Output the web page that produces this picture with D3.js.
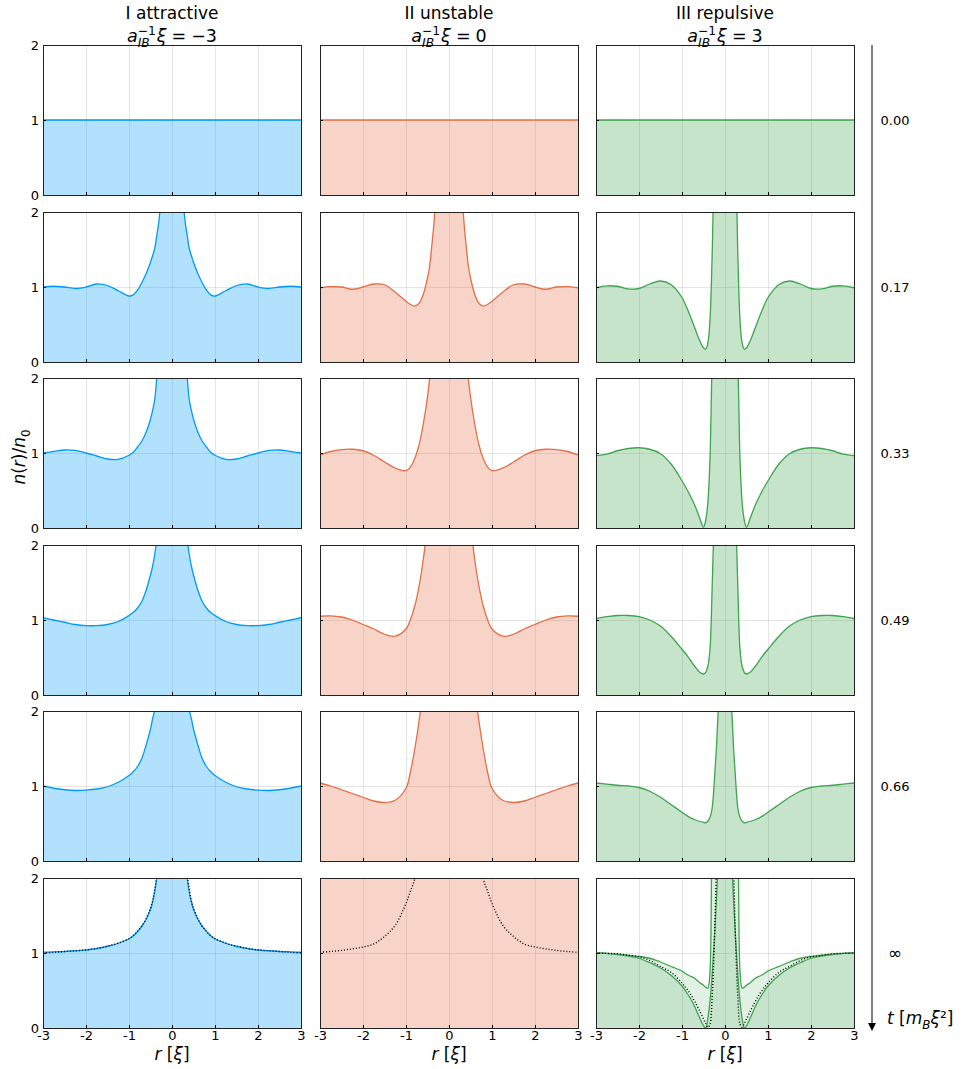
<!DOCTYPE html>
<html>
<head>
<meta charset="utf-8">
<script src="https://cdn.jsdelivr.net/npm/d3@7"></script>
<style>
  body { margin: 0; background: #fff; }
  svg { font-family: "DejaVu Sans", sans-serif; }
</style>
</head>
<body>
<div id="chart"></div>
<script>
// r grid shared by every curve (r in units of xi)
const rGrid = [-3, -2.75, -2.5, -2.25, -2, -1.75, -1.5, -1.25, -1, -0.9, -0.8, -0.7, -0.6, -0.5, -0.45, -0.4, -0.35, -0.3, -0.25, -0.2, -0.15, -0.1, -0.05,
  0,
  0.05, 0.1, 0.15, 0.2, 0.25, 0.3, 0.35, 0.4, 0.45, 0.5, 0.6, 0.7, 0.8, 0.9, 1, 1.25, 1.5, 1.75, 2, 2.25, 2.5, 2.75, 3];

const xTicks = [-3, -2, -1, 0, 1, 2, 3];
const yTicks = [0, 1, 2];
const timeLabels = ["0.00", "0.17", "0.33", "0.49", "0.66", "∞"];
const colTitles = ["I attractive", "II unstable", "III repulsive"];
const couplings = ["−3", "0", "3"];
const lineColors = ["#009AFA", "#E36F47", "#3EA44E"];

// t = 0 : uniform density
const flat = [1, 1, 1, 1, 1, 1, 1, 1, 1, 1, 1, 1, 1, 1, 1, 1, 1, 1, 1, 1, 1, 1, 1,
  1,
  1, 1, 1, 1, 1, 1, 1, 1, 1, 1, 1, 1, 1, 1, 1, 1, 1, 1, 1, 1, 1, 1, 1];

// I attractive
const nAttractive = [
  flat,
  [1.00, 1.01, 1.00, 0.98, 1.00, 1.04, 1.02, 0.95, 0.88, 0.895, 0.96, 1.06, 1.18, 1.33, 1.42, 1.52, 1.70, 1.90, 2.30, 2.80, 3, 3, 3,
   3,
   3, 3, 3, 2.80, 2.30, 1.90, 1.70, 1.52, 1.42, 1.33, 1.18, 1.06, 0.96, 0.895, 0.88, 0.95, 1.02, 1.04, 1.00, 0.98, 1.00, 1.01, 1.00],
  [1.00, 1.02, 1.04, 1.035, 1.00, 0.96, 0.92, 0.915, 0.97, 1.01, 1.08, 1.16, 1.28, 1.45, 1.57, 1.72, 2.05, 2.50, 3, 3, 3, 3, 3,
   3,
   3, 3, 3, 3, 3, 2.50, 2.05, 1.72, 1.57, 1.45, 1.28, 1.16, 1.08, 1.01, 0.97, 0.915, 0.92, 0.96, 1.00, 1.035, 1.04, 1.02, 1.00],
  [1.03, 1.00, 0.97, 0.94, 0.925, 0.925, 0.94, 0.98, 1.06, 1.10, 1.16, 1.25, 1.40, 1.60, 1.72, 1.88, 2.10, 2.50, 3, 3, 3, 3, 3,
   3,
   3, 3, 3, 3, 3, 2.50, 2.10, 1.88, 1.72, 1.60, 1.40, 1.25, 1.16, 1.10, 1.06, 0.98, 0.94, 0.925, 0.925, 0.94, 0.97, 1.00, 1.03],
  [1.00, 0.97, 0.95, 0.94, 0.945, 0.96, 0.99, 1.05, 1.14, 1.19, 1.26, 1.37, 1.55, 1.76, 1.90, 2.02, 2.30, 2.70, 3, 3, 3, 3, 3,
   3,
   3, 3, 3, 3, 3, 2.70, 2.30, 2.02, 1.90, 1.76, 1.55, 1.37, 1.26, 1.19, 1.14, 1.05, 0.99, 0.96, 0.945, 0.94, 0.95, 0.97, 1.00],
  [1.01, 1.015, 1.02, 1.03, 1.04, 1.06, 1.09, 1.13, 1.19, 1.23, 1.29, 1.36, 1.45, 1.58, 1.68, 1.82, 2.02, 2.30, 2.70, 3, 3, 3, 3,
   3,
   3, 3, 3, 3, 2.70, 2.30, 2.02, 1.82, 1.68, 1.58, 1.45, 1.36, 1.29, 1.23, 1.19, 1.13, 1.09, 1.06, 1.04, 1.03, 1.02, 1.015, 1.01]
];
const nAttractiveLimit = [1.00, 1.01, 1.02, 1.03, 1.04, 1.06, 1.09, 1.13, 1.19, 1.23, 1.29, 1.36, 1.46, 1.60, 1.70, 1.85, 2.05, 2.35, 2.80, 3, 3, 3, 3,
  3,
  3, 3, 3, 3, 2.80, 2.35, 2.05, 1.85, 1.70, 1.60, 1.46, 1.36, 1.29, 1.23, 1.19, 1.13, 1.09, 1.06, 1.04, 1.03, 1.02, 1.01, 1.00];

// II unstable
const nUnstable = [
  flat,
  [0.99, 1.005, 1.00, 0.97, 1.00, 1.04, 1.03, 0.93, 0.81, 0.77, 0.745, 0.78, 0.90, 1.12, 1.28, 1.55, 1.85, 2.30, 2.80, 3, 3, 3, 3,
   3,
   3, 3, 3, 3, 2.80, 2.30, 1.85, 1.55, 1.28, 1.12, 0.90, 0.78, 0.745, 0.77, 0.81, 0.93, 1.03, 1.04, 1.00, 0.97, 1.00, 1.005, 0.99],
  [0.975, 1.02, 1.045, 1.05, 1.03, 0.97, 0.88, 0.80, 0.765, 0.81, 0.92, 1.10, 1.38, 1.75, 2.00, 2.40, 3, 3, 3, 3, 3, 3, 3,
   3,
   3, 3, 3, 3, 3, 3, 3, 2.40, 2.00, 1.75, 1.38, 1.10, 0.92, 0.81, 0.765, 0.80, 0.88, 0.97, 1.03, 1.05, 1.045, 1.02, 0.975],
  [1.05, 1.055, 1.04, 1.00, 0.94, 0.88, 0.81, 0.785, 0.88, 1.00, 1.18, 1.44, 1.80, 2.30, 2.70, 3, 3, 3, 3, 3, 3, 3, 3,
   3,
   3, 3, 3, 3, 3, 3, 3, 3, 2.70, 2.30, 1.80, 1.44, 1.18, 1.00, 0.88, 0.785, 0.81, 0.88, 0.94, 1.00, 1.04, 1.055, 1.05],
  [1.04, 1.00, 0.95, 0.90, 0.85, 0.80, 0.78, 0.81, 0.97, 1.18, 1.48, 1.85, 2.30, 3, 3, 3, 3, 3, 3, 3, 3, 3, 3,
   3,
   3, 3, 3, 3, 3, 3, 3, 3, 3, 3, 2.30, 1.85, 1.48, 1.18, 0.97, 0.81, 0.78, 0.80, 0.85, 0.90, 0.95, 1.00, 1.04],
  [3, 3, 3, 3, 3, 3, 3, 3, 3, 3, 3, 3, 3, 3, 3, 3, 3, 3, 3, 3, 3, 3, 3,
   3,
   3, 3, 3, 3, 3, 3, 3, 3, 3, 3, 3, 3, 3, 3, 3, 3, 3, 3, 3, 3, 3, 3, 3]
];
const nUnstableLimit = [1.01, 1.02, 1.035, 1.055, 1.08, 1.12, 1.22, 1.37, 1.66, 1.82, 1.98, 2.30, 2.70, 3, 3, 3, 3, 3, 3, 3, 3, 3, 3,
  3,
  3, 3, 3, 3, 3, 3, 3, 3, 3, 3, 2.70, 2.30, 1.98, 1.82, 1.66, 1.37, 1.22, 1.12, 1.08, 1.055, 1.035, 1.02, 1.01];

// III repulsive
const nRepulsive = [
  flat,
  [0.99, 1.015, 1.01, 0.975, 0.98, 1.04, 1.08, 1.03, 0.86, 0.74, 0.60, 0.45, 0.30, 0.19, 0.17, 0.25, 0.55, 1.40, 2.60, 3, 3, 3, 3,
   3,
   3, 3, 3, 3, 2.60, 1.40, 0.55, 0.25, 0.17, 0.19, 0.30, 0.45, 0.60, 0.74, 0.86, 1.03, 1.08, 1.04, 0.98, 0.975, 1.01, 1.015, 0.99],
  [0.965, 0.985, 1.03, 1.06, 1.07, 1.05, 0.99, 0.85, 0.63, 0.53, 0.42, 0.30, 0.15, 0.01, 0.10, 0.33, 0.90, 2.20, 3, 3, 3, 3, 3,
   3,
   3, 3, 3, 3, 3, 2.20, 0.90, 0.33, 0.10, 0.01, 0.15, 0.30, 0.42, 0.53, 0.63, 0.85, 0.99, 1.05, 1.07, 1.06, 1.03, 0.985, 0.965],
  [1.02, 1.045, 1.06, 1.06, 1.045, 1.00, 0.92, 0.78, 0.61, 0.54, 0.46, 0.38, 0.31, 0.28, 0.30, 0.38, 0.60, 1.40, 2.40, 3, 3, 3, 3,
   3,
   3, 3, 3, 3, 2.40, 1.40, 0.60, 0.38, 0.30, 0.28, 0.31, 0.38, 0.46, 0.54, 0.61, 0.78, 0.92, 1.00, 1.045, 1.06, 1.06, 1.045, 1.02],
  [1.04, 1.025, 1.01, 1.00, 0.98, 0.93, 0.85, 0.75, 0.65, 0.61, 0.575, 0.55, 0.53, 0.515, 0.51, 0.53, 0.58, 0.70, 1.05, 1.50, 2.10, 2.80, 3,
   3,
   3, 2.80, 2.10, 1.50, 1.05, 0.70, 0.58, 0.53, 0.51, 0.515, 0.53, 0.55, 0.575, 0.61, 0.65, 0.75, 0.85, 0.93, 0.98, 1.00, 1.01, 1.025, 1.04],
  [1.00, 0.995, 0.985, 0.97, 0.955, 0.93, 0.88, 0.82, 0.76, 0.72, 0.69, 0.66, 0.61, 0.57, 0.545, 0.53, 0.75, 2.50, 3, 3, 3, 3, 3,
   3,
   3, 3, 3, 3, 3, 2.50, 0.75, 0.53, 0.545, 0.57, 0.61, 0.66, 0.69, 0.72, 0.76, 0.82, 0.88, 0.93, 0.955, 0.97, 0.985, 0.995, 1.00]
];
const nRepulsiveInf2 = [1.00, 0.995, 0.98, 0.96, 0.93, 0.87, 0.80, 0.70, 0.56, 0.48, 0.39, 0.28, 0.15, 0.03, 0.00, 0.12, 0.35, 0.70, 1.15, 1.70, 2.30, 3, 3,
  3,
  3, 3, 2.30, 1.70, 1.15, 0.70, 0.35, 0.12, 0.00, 0.03, 0.15, 0.28, 0.39, 0.48, 0.56, 0.70, 0.80, 0.87, 0.93, 0.96, 0.98, 0.995, 1.00];
const nRepulsiveLimit = [1.00, 0.995, 0.99, 0.97, 0.95, 0.90, 0.82, 0.74, 0.60, 0.53, 0.45, 0.35, 0.24, 0.12, 0.06, 0.01, 0.05, 0.40, 1.10, 2.10, 3, 3, 3,
  3,
  3, 3, 3, 2.10, 1.10, 0.40, 0.05, 0.01, 0.06, 0.12, 0.24, 0.35, 0.45, 0.53, 0.60, 0.74, 0.82, 0.90, 0.95, 0.97, 0.99, 0.995, 1.00];

const columns = [nAttractive, nUnstable, nRepulsive];
const limits = [nAttractiveLimit, nUnstableLimit, nRepulsiveLimit];

// layout
const W = 962, H = 1069;
const panelW = 258, panelH = 150;
const colLeft = j => 43 + Math.round(j * 276.5);
const rowTop = i => 45 + Math.round(i * 166.6);

const svg = d3.select("#chart").append("svg")
  .attr("width", W)
  .attr("height", H);

const x = d3.scaleLinear().domain([-3, 3]).range([0, panelW]);
const y = d3.scaleLinear().domain([0, 2]).range([panelH, 0]);

const curve = d3.curveCatmullRom.alpha(0.5);
const area = d3.area()
  .curve(curve)
  .x((d, k) => x(rGrid[k]))
  .y0(y(0))
  .y1(d => y(d));
const line = d3.line()
  .curve(curve)
  .x((d, k) => x(rGrid[k]))
  .y(d => y(d));

svg.append("defs").append("clipPath").attr("id", "panel-clip")
  .append("rect").attr("width", panelW).attr("height", panelH);

columns.forEach((rows, j) => {
  rows.forEach((vals, i) => {
    const g = svg.append("g").attr("transform", `translate(${colLeft(j)},${rowTop(i)})`);
    const color = lineColors[j];

    // grid
    g.append("g").selectAll("line")
      .data(xTicks.slice(1, -1))
      .join("line")
      .attr("x1", d => x(d)).attr("x2", d => x(d))
      .attr("y1", 0).attr("y2", panelH)
      .attr("stroke", "#000").attr("stroke-opacity", 0.1)
      .attr("shape-rendering", "crispEdges");
    g.append("line")
      .attr("x1", 0).attr("x2", panelW)
      .attr("y1", y(1)).attr("y2", y(1))
      .attr("stroke", "#000").attr("stroke-opacity", 0.1)
      .attr("shape-rendering", "crispEdges");

    const plot = g.append("g").attr("clip-path", "url(#panel-clip)");
    const series = [vals];
    if (j === 2 && i === 5) series.push(nRepulsiveInf2);
    const op = series.length > 1 ? 0.16 : 0.3;

    series.forEach(s => {
      plot.append("path").datum(s)
        .attr("d", area)
        .attr("fill", color).attr("fill-opacity", op);
    });
    series.forEach(s => {
      plot.append("path").datum(s)
        .attr("d", line)
        .attr("fill", "none")
        .attr("stroke", color).attr("stroke-width", 1.3);
    });

    if (i === 5) {
      plot.append("path").datum(limits[j])
        .attr("d", line)
        .attr("fill", "none")
        .attr("stroke", "#000").attr("stroke-width", 1.4)
        .attr("stroke-dasharray", "1,2");
    }

    // axes (ticks inside)
    const xa = g.append("g").attr("transform", `translate(0,${panelH})`)
      .call(d3.axisBottom(x).tickValues(xTicks).tickSize(-3).tickSizeOuter(0).tickPadding(3)
        .tickFormat(d => i === 5 ? String(d) : ""));
    const ya = g.append("g")
      .call(d3.axisLeft(y).tickValues(yTicks).tickSize(-3).tickSizeOuter(0).tickPadding(4)
        .tickFormat(d => j === 0 ? String(d) : ""));
    [xa, ya].forEach(a => {
      a.select(".domain").remove();
      a.selectAll("line").attr("stroke", "#000");
      a.selectAll("text").attr("font-size", 13).attr("fill", "#000")
        .attr("font-family", "DejaVu Sans, sans-serif");
    });

    // frame
    g.append("rect")
      .attr("width", panelW).attr("height", panelH)
      .attr("fill", "none").attr("stroke", "#222").attr("stroke-width", 1)
      .attr("shape-rendering", "crispEdges");
  });
});

// rich text helper: parts are [text, {italic, sub, sup, stack, dx}]
function mathText(parent, px, py, parts, size, anchor) {
  const t = parent.append("text").attr("x", 0).attr("y", 0).attr("font-size", size).attr("fill", "#000");
  let lastSubW = 0, shift = 0;
  parts.forEach(([txt, o = {}]) => {
    const ts = t.append("tspan").text(txt);
    if (o.italic) ts.attr("font-style", "italic");
    let dy = 0;
    if (o.sub) { ts.attr("font-size", size * 0.7); dy = size * 0.3 - shift; shift = size * 0.3; }
    else if (o.sup) { ts.attr("font-size", size * 0.7); dy = -size * 0.4 - shift; shift = -size * 0.4; }
    else { dy = -shift; shift = 0; }
    if (dy) ts.attr("dy", dy);
    if (o.stack) ts.attr("dx", -lastSubW);
    else if (o.dx) ts.attr("dx", o.dx);
    if (o.sub) lastSubW = ts.node().getComputedTextLength();
  });
  const bb = t.node().getBBox();
  let ox = px;
  if (anchor === "middle") ox = px - bb.width / 2;
  t.attr("transform", `translate(${ox},${py})`);
  return t;
}

// column titles
colTitles.forEach((title, j) => {
  const cx = colLeft(j) + panelW / 2;
  svg.append("text").attr("x", cx).attr("y", 19)
    .attr("text-anchor", "middle").attr("font-size", 17).text(title);
  mathText(svg, cx, 42, [
    ["a", { italic: true }],
    ["IB", { italic: true, sub: true }],
    ["−1", { sup: true, stack: true }],
    ["ξ", { italic: true, dx: 1 }],
    ["=", { dx: 5 }],
    [couplings[j], { dx: 5 }]
  ], 17.5, "middle");
});

// x labels
[0, 1, 2].forEach(j => {
  mathText(svg, colLeft(j) + panelW / 2, 1060, [
    ["r", { italic: true }], [" ["], ["ξ", { italic: true }], ["]"]
  ], 17, "middle");
});

// y label
const yl = svg.append("g").attr("transform", "translate(25,457) rotate(-90)");
mathText(yl, 0, 0, [
  ["n", { italic: true }], ["("], ["r", { italic: true }], [")/"],
  ["n", { italic: true }], ["0", { sub: true }]
], 17, "middle");

// time axis on the right
const axX = 872;
svg.append("line")
  .attr("x1", axX).attr("x2", axX)
  .attr("y1", rowTop(0)).attr("y2", 1024)
  .attr("stroke", "#000").attr("stroke-width", 1);
svg.append("path")
  .attr("d", `M${axX - 4},1023 L${axX + 4},1023 L${axX},1031 Z`)
  .attr("fill", "#000");

timeLabels.forEach((lab, i) => {
  svg.append("text")
    .attr("x", 895).attr("y", rowTop(i) + panelH / 2)
    .attr("dy", "0.35em")
    .attr("text-anchor", "middle")
    .attr("font-size", lab === "∞" ? 17 : 13)
    .text(lab);
});

mathText(svg, 887, 1024, [
  ["t", { italic: true }], [" ["], ["m", { italic: true }], ["B", { italic: true, sub: true }],
  ["ξ", { italic: true }], ["²"], ["]"]
], 17, "start");
</script>
</body>
</html>
